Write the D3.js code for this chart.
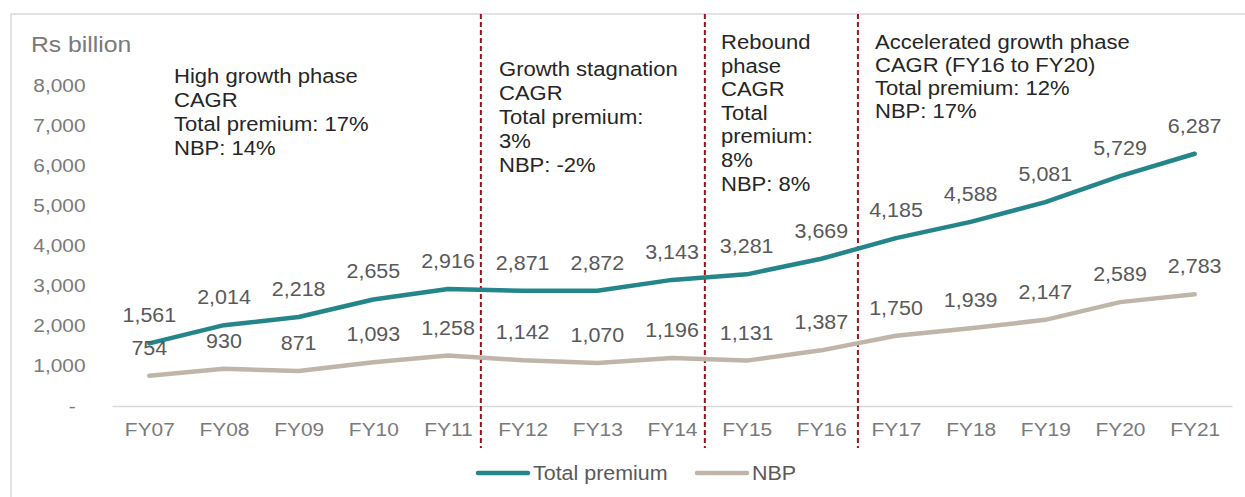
<!DOCTYPE html>
<html>
<head>
<meta charset="utf-8">
<script src="https://cdn.jsdelivr.net/npm/d3@7"></script>
<style>
  body { margin: 0; background: #fff; }
  svg { display: block; font-family: "Liberation Sans", Arial, sans-serif; }
</style>
</head>
<body>
<div id="chart"></div>
<script>
// Data
const years = ["FY07", "FY08", "FY09", "FY10", "FY11", "FY12", "FY13", "FY14",
               "FY15", "FY16", "FY17", "FY18", "FY19", "FY20", "FY21"];
const totalPremium = [1561, 2014, 2218, 2655, 2916, 2871, 2872, 3143, 3281, 3669, 4185, 4588, 5081, 5729, 6287];
const nbp = [754, 930, 871, 1093, 1258, 1142, 1070, 1196, 1131, 1387, 1750, 1939, 2147, 2589, 2783];
const yTicks = [0, 1000, 2000, 3000, 4000, 5000, 6000, 7000, 8000];
// phase breaks, in category index units (FY07 = 0)
const phaseBreaks = [4.44, 7.44, 9.49];
const phaseNotes = [
    ["High growth phase", "CAGR", "Total premium: 17%", "NBP: 14%"],
    ["Growth stagnation", "CAGR", "Total premium:", "3%", "NBP: -2%"],
    ["Rebound", "phase", "CAGR", "Total", "premium:", "8%", "NBP: 8%"],
    ["Accelerated growth phase", "CAGR (FY16 to FY20)", "Total premium: 12%", "NBP: 17%"]
];

let width = 1245,
    height = 497;

let margin = { top: 85, bottom: 91, left: 112, right: 13 };

const stretch = 1.1; // text in the picture is a bit wide

let svg = d3.select('#chart')
    .append('svg')
    .attr('width', width)
    .attr('height', height);

// outer frame
svg.append('rect')
    .attr('x', 11)
    .attr('y', 14)
    .attr('width', width)
    .attr('height', height)
    .attr('fill', 'none')
    .attr('stroke', '#d9d9d9')
    .attr('stroke-width', 1.5);

let xScale = d3.scalePoint()
    .domain(years)
    .range([margin.left, width - margin.right])
    .padding(0.5);

let idxScale = d3.scaleLinear()
    .domain([0, years.length - 1])
    .range([xScale(years[0]), xScale(years[years.length - 1])]);

let yScale = d3.scaleLinear()
    .domain([0, 8000])
    .range([height - margin.bottom, margin.top]);

// x axis
let xAxis = svg.append('g')
    .attr('transform', `translate(0,${height - margin.bottom})`)
    .call(d3.axisBottom(xScale).tickSize(0).tickPadding(17));
xAxis.select('.domain').attr('stroke', '#d9d9d9').attr('stroke-width', 1.5);
xAxis.selectAll('text')
    .attr('font-size', 19)
    .attr('fill', '#7a7a7a')
    .attr('transform', `scale(${stretch},1)`)
    .attr('x', 0);

// y axis
let yAxis = svg.append('g')
    .attr('transform', `translate(${margin.left},0)`)
    .call(d3.axisLeft(yScale)
        .tickValues(yTicks)
        .tickSize(0)
        .tickPadding(24)
        .tickFormat(d => d === 0 ? '-' : d3.format(',')(d)));
yAxis.select('.domain').remove();
yAxis.selectAll('text')
    .attr('font-size', 19)
    .attr('fill', '#7a7a7a')
    .attr('transform', d => d === 0 ? `translate(-10,0) scale(${stretch},1)` : `scale(${stretch},1)`);

// unit label
svg.append('text')
    .attr('transform', `translate(31,52) scale(${stretch},1)`)
    .attr('font-size', 22.5)
    .attr('fill', '#7a7a7a')
    .text('Rs billion');

// phase separators
svg.selectAll('.phase-line')
    .data(phaseBreaks)
    .enter().append('line')
    .attr('class', 'phase-line')
    .attr('x1', d => idxScale(d))
    .attr('x2', d => idxScale(d))
    .attr('y1', 14)
    .attr('y2', 448)
    .attr('stroke', '#a01218')
    .attr('stroke-width', 2)
    .attr('stroke-dasharray', '5,3');

// phase notes
const notePos = [
    { x: 174, y: 83, lh: 24 },
    { x: 499, y: 76, lh: 24 },
    { x: 721, y: 49, lh: 23.6 },
    { x: 875, y: 49, lh: 23 }
];
phaseNotes.forEach((lines, i) => {
    const p = notePos[i];
    svg.append('g')
        .attr('transform', `translate(${p.x},${p.y})`)
        .selectAll('text')
        .data(lines)
        .enter().append('text')
        .attr('transform', (d, j) => `translate(0,${j * p.lh}) scale(1.13,1)`)
        .attr('font-size', 19.5)
        .attr('fill', '#262626')
        .text(d => d);
});

// lines
const series = [
    { name: 'Total premium', values: totalPremium, color: '#24858a' },
    { name: 'NBP', values: nbp, color: '#bfb6a9' }
];

const line = d3.line()
    .x((d, i) => xScale(years[i]))
    .y(d => yScale(d));

series.forEach(s => {
    svg.append('path')
        .datum(s.values)
        .attr('d', line)
        .attr('fill', 'none')
        .attr('stroke', s.color)
        .attr('stroke-width', 4.5)
        .attr('stroke-linecap', 'round')
        .attr('stroke-linejoin', 'round');

    svg.append('g')
        .selectAll('text')
        .data(s.values)
        .enter().append('text')
        .attr('transform', (d, i) => `translate(${xScale(years[i])},${yScale(d) - 21}) scale(${stretch},1)`)
        .attr('text-anchor', 'middle')
        .attr('font-size', 19.5)
        .attr('fill', '#595959')
        .text(d => d3.format(',')(d));
});

// legend
const legendPos = [{ x: 478, text: 533 }, { x: 697, text: 752 }];
const legend = svg.selectAll('.legend')
    .data(series)
    .enter().append('g')
    .attr('class', 'legend');

legend.append('line')
    .attr('x1', (d, i) => legendPos[i].x)
    .attr('x2', (d, i) => legendPos[i].x + 50)
    .attr('y1', 473)
    .attr('y2', 473)
    .attr('stroke', d => d.color)
    .attr('stroke-width', 4.5)
    .attr('stroke-linecap', 'round');

legend.append('text')
    .attr('transform', (d, i) => `translate(${legendPos[i].text},480) scale(${stretch},1)`)
    .attr('font-size', 19.5)
    .attr('fill', '#595959')
    .text(d => d.name);
</script>
</body>
</html>
